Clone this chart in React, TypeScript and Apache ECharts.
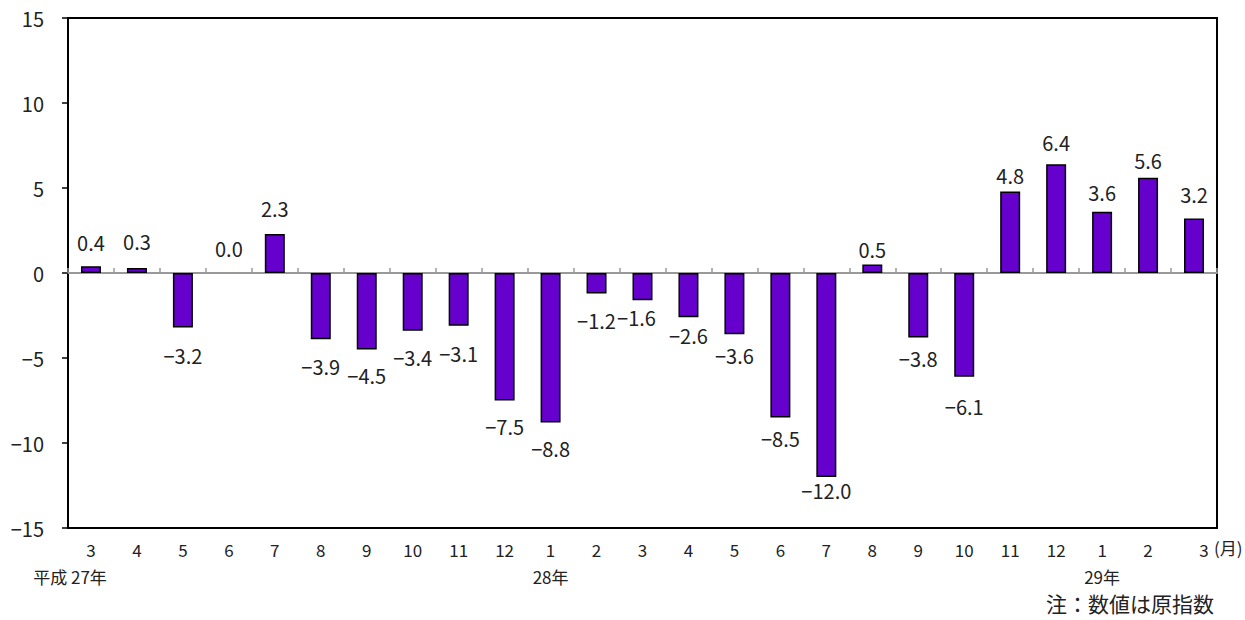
import React, { useEffect, useRef } from "react";
import * as echarts from "echarts";

const months = ["3", "4", "5", "6", "7", "8", "9", "10", "11", "12", "1", "2", "3", "4", "5", "6", "7", "8", "9", "10", "11", "12", "1", "2", "3"];
const values = [0.4, 0.3, -3.2, 0.0, 2.3, -3.9, -4.5, -3.4, -3.1, -7.5, -8.8, -1.2, -1.6, -2.6, -3.6, -8.5, -12.0, 0.5, -3.8, -6.1, 4.8, 6.4, 3.6, 5.6, 3.2];
const yearIndex = [0, 10, 22];
const yearText = ["平成 27年", "28年", "29年"];
const yTicks = [-15, -10, -5, 0, 5, 10, 15];
const unitText = "(月)";
const noteText = "注：数値は原指数";

// layout only: distance of each value label from its bar end, horizontal nudges
const labelGap = [14, 16, 18, 15, 15, 17, 16, 17, 18, 16, 16, 17, 7, 8, 11, 11, 3, 5, 11, 20, 6, 12, 9, 7, 14];
const labelDx = [0, 0, 0, 0, 0, 0, 0, 0, 0, 0, 0, 0, -6, 0, 0, 0, 0, 0, 0, 0, 0, 0, 0, 0, 0];

const FONT = '"Noto Sans CJK JP", "Noto Sans", sans-serif';
const minus = (s: string) => s.replace("-", "\u2212");

export default function App() {
  const ref = useRef<HTMLDivElement>(null);
  useEffect(() => {
    if (!ref.current) return;
    const chart = echarts.init(ref.current, undefined, { renderer: "svg" });
    const option: any = {
      animation: false,
      textStyle: { fontFamily: FONT, color: "#222" },
      grid: {
        left: 68,
        right: 28,
        top: 18,
        bottom: 92,
        show: true,
        borderColor: "#000",
        borderWidth: 2,
        backgroundColor: "transparent",
      },
      xAxis: [
        {
          type: "category",
          data: months,
          position: "bottom",
          axisLine: { show: false, onZero: false },
          axisTick: { show: false },
          axisLabel: {
            interval: 0,
            margin: 13,
            fontSize: 17,
            color: "#222",
            fontFamily: FONT,
            formatter: (val: string, idx: number) => {
              if (idx === months.length - 1) return `{r|${val}}`;
              return val;
            },
            rich: {
              r: { fontSize: 17, fontFamily: FONT, color: "#222", padding: [0, 0, 0, 20] },
            },
          },
          splitLine: { show: false },
        },
        {
          type: "category",
          data: months,
          position: "bottom",
          axisLine: { show: true, onZero: true, lineStyle: { color: "#999", width: 2 } },
          axisTick: { show: true, inside: true, length: 5, lineStyle: { color: "#999", width: 1.5 } },
          axisLabel: { show: false },
          splitLine: { show: false },
        },
        {
          type: "category",
          data: months,
          position: "bottom",
          axisLine: { show: false, onZero: false },
          axisTick: { show: false },
          axisLabel: {
            interval: (idx: number) => yearIndex.indexOf(idx) >= 0,
            margin: 40,
            fontSize: 17,
            color: "#222",
            fontFamily: FONT,
            formatter: (_val: string, idx: number) => {
              const yi = yearIndex.indexOf(idx);
              if (yi < 0) return "";
              return idx === 0 ? `{y0|${yearText[yi]}}` : yearText[yi];
            },
            rich: {
              y0: { fontSize: 17, fontFamily: FONT, color: "#222", padding: [0, 42, 0, 0] },
            },
          },
          splitLine: { show: false },
        },
      ],
      yAxis: {
        type: "value",
        min: yTicks[0],
        max: yTicks[yTicks.length - 1],
        interval: 5,
        axisLine: { show: true, lineStyle: { color: "#000", width: 2 } },
        axisTick: { show: true, inside: false, length: 6, lineStyle: { color: "#000", width: 1.5 } },
        axisLabel: {
          margin: 24,
          fontSize: 20,
          color: "#222",
          fontFamily: FONT,
          formatter: (v: number) => minus(String(v)),
        },
        splitLine: { show: false },
      },
      series: [
        {
          type: "bar",
          xAxisIndex: 0,
          barWidth: "43.5%",
          itemStyle: { color: "#6600cc", borderColor: "#000", borderWidth: 1.5 },
          label: {
            show: true,
            fontSize: 20,
            fontFamily: FONT,
            color: "#222",
            formatter: (p: any) => minus(Number(p.value).toFixed(1)),
          },
          data: values.map((v, i) => ({
            value: v,
            itemStyle: v === 0 ? { borderWidth: 0 } : undefined,
            label: {
              position: v < 0 ? "bottom" : "top",
              distance: labelGap[i],
              offset: [labelDx[i], 0],
            },
          })),
        },
      ],
      graphic: [
        {
          type: "text",
          left: 1214,
          top: 539,
          style: { text: unitText, font: `17px ${FONT}`, fill: "#222" },
        },
        {
          type: "text",
          x: 1214,
          y: 603,
          style: {
            text: noteText,
            font: `21px ${FONT}`,
            fill: "#222",
            textAlign: "right",
            textVerticalAlign: "middle",
          },
        },
      ],
    };
    chart.setOption(option);
    return () => chart.dispose();
  }, []);
  return (
    <div
      ref={ref}
      style={{ position: "absolute", left: 0, top: 0, width: 1245, height: 620 }}
    />
  );
}
